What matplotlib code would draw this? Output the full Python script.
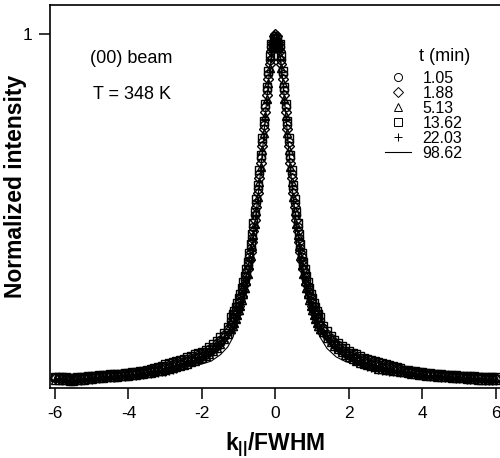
import matplotlib
matplotlib.use("Agg")
import matplotlib.pyplot as plt

plt.rcParams["font.family"] = ["Liberation Sans", "DejaVu Sans"]
plt.rcParams["mathtext.default"] = "regular"
plt.rcParams["axes.unicode_minus"] = False

# k_par / FWHM sampling shared by the five scans:
# coarse in the wings, finer across the peak
k = [-6.0, -5.9, -5.8, -5.7, -5.6, -5.5, -5.4, -5.3, -5.2, -5.1,
     -5.0, -4.9, -4.8, -4.7, -4.6, -4.5, -4.4, -4.3, -4.2, -4.1,
     -4.0, -3.9, -3.8, -3.7, -3.6, -3.5, -3.4, -3.3, -3.2, -3.1,
     -3.0, -2.9, -2.8, -2.7, -2.6, -2.5, -2.4, -2.3, -2.2, -2.1,
     -2.0, -1.9, -1.8, -1.7, -1.6, -1.5, -1.4, -1.3,
     -1.2, -1.16, -1.12, -1.08, -1.04, -1.0, -0.96, -0.92, -0.88, -0.84,
     -0.8, -0.76, -0.72, -0.68, -0.64, -0.6, -0.56, -0.52, -0.48, -0.44,
     -0.4, -0.36, -0.32, -0.28, -0.24, -0.2, -0.16, -0.12, -0.08, -0.04,
     0.0,
     0.04, 0.08, 0.12, 0.16, 0.2, 0.24, 0.28, 0.32, 0.36, 0.4,
     0.44, 0.48, 0.52, 0.56, 0.6, 0.64, 0.68, 0.72, 0.76, 0.8,
     0.84, 0.88, 0.92, 0.96, 1.0, 1.04, 1.08, 1.12, 1.16, 1.2,
     1.3, 1.4, 1.5, 1.6, 1.7, 1.8, 1.9, 2.0,
     2.1, 2.2, 2.3, 2.4, 2.5, 2.6, 2.7, 2.8, 2.9, 3.0,
     3.1, 3.2, 3.3, 3.4, 3.5, 3.6, 3.7, 3.8, 3.9, 4.0,
     4.1, 4.2, 4.3, 4.4, 4.5, 4.6, 4.7, 4.8, 4.9, 5.0,
     5.1, 5.2, 5.3, 5.4, 5.5, 5.6, 5.7, 5.8, 5.9, 6.0]

i_105 = [0.030, 0.030, 0.029, 0.028, 0.027, 0.027, 0.028, 0.029, 0.030, 0.031,
         0.032, 0.033, 0.034, 0.035, 0.036, 0.037, 0.037, 0.038, 0.039, 0.040,
         0.041, 0.042, 0.043, 0.045, 0.046, 0.048, 0.051, 0.054, 0.056, 0.058,
         0.062, 0.065, 0.068, 0.071, 0.074, 0.077, 0.081, 0.085, 0.089, 0.093,
         0.097, 0.102, 0.109, 0.117, 0.126, 0.137, 0.150, 0.166,
         0.190, 0.199, 0.209, 0.220, 0.231, 0.244, 0.257, 0.272, 0.289, 0.306,
         0.326, 0.347, 0.371, 0.396, 0.424, 0.455, 0.488, 0.524, 0.563, 0.605,
         0.649, 0.696, 0.744, 0.793, 0.841, 0.886, 0.928, 0.963, 0.972, 0.989,
         0.995,
         0.989, 0.972, 0.963, 0.928, 0.886, 0.841, 0.793, 0.744, 0.696, 0.649,
         0.605, 0.563, 0.524, 0.488, 0.455, 0.424, 0.396, 0.371, 0.347, 0.326,
         0.306, 0.289, 0.272, 0.257, 0.244, 0.231, 0.220, 0.209, 0.199, 0.190,
         0.170, 0.154, 0.141, 0.130, 0.121, 0.113, 0.106, 0.100,
         0.094, 0.089, 0.084, 0.080, 0.076, 0.073, 0.070, 0.067, 0.065, 0.063,
         0.060, 0.058, 0.056, 0.053, 0.050, 0.048, 0.047, 0.045, 0.044, 0.042,
         0.041, 0.040, 0.039, 0.038, 0.037, 0.036, 0.036, 0.035, 0.034, 0.033,
         0.033, 0.032, 0.032, 0.031, 0.030, 0.030, 0.029, 0.029, 0.028, 0.028]

i_188 = [0.027, 0.027, 0.026, 0.025, 0.024, 0.024, 0.025, 0.026, 0.027, 0.028,
         0.029, 0.030, 0.031, 0.032, 0.033, 0.034, 0.034, 0.035, 0.036, 0.037,
         0.038, 0.039, 0.040, 0.042, 0.043, 0.045, 0.047, 0.049, 0.051, 0.053,
         0.056, 0.059, 0.062, 0.065, 0.068, 0.071, 0.075, 0.079, 0.083, 0.087,
         0.091, 0.096, 0.103, 0.111, 0.120, 0.131, 0.144, 0.160,
         0.178, 0.187, 0.197, 0.208, 0.219, 0.232, 0.245, 0.260, 0.277, 0.294,
         0.314, 0.335, 0.359, 0.384, 0.412, 0.443, 0.476, 0.512, 0.551, 0.593,
         0.637, 0.684, 0.732, 0.781, 0.829, 0.874, 0.916, 0.951, 0.977, 0.994,
         1.000,
         0.994, 0.977, 0.951, 0.916, 0.874, 0.829, 0.781, 0.732, 0.684, 0.637,
         0.593, 0.551, 0.512, 0.476, 0.443, 0.412, 0.384, 0.359, 0.335, 0.314,
         0.294, 0.277, 0.260, 0.245, 0.232, 0.219, 0.208, 0.197, 0.187, 0.178,
         0.164, 0.148, 0.135, 0.124, 0.115, 0.107, 0.100, 0.094,
         0.088, 0.083, 0.078, 0.074, 0.070, 0.067, 0.064, 0.061, 0.059, 0.057,
         0.055, 0.053, 0.051, 0.049, 0.047, 0.045, 0.044, 0.042, 0.041, 0.039,
         0.038, 0.037, 0.036, 0.035, 0.034, 0.033, 0.033, 0.032, 0.031, 0.030,
         0.030, 0.029, 0.029, 0.028, 0.027, 0.027, 0.026, 0.026, 0.025, 0.025]

i_513 = [0.024, 0.024, 0.023, 0.022, 0.021, 0.021, 0.022, 0.023, 0.024, 0.025,
         0.026, 0.027, 0.028, 0.029, 0.030, 0.031, 0.031, 0.032, 0.033, 0.034,
         0.035, 0.036, 0.037, 0.039, 0.040, 0.042, 0.043, 0.045, 0.047, 0.048,
         0.050, 0.053, 0.056, 0.059, 0.062, 0.065, 0.069, 0.073, 0.077, 0.081,
         0.085, 0.090, 0.097, 0.105, 0.114, 0.125, 0.138, 0.154,
         0.166, 0.175, 0.185, 0.196, 0.207, 0.220, 0.233, 0.248, 0.265, 0.282,
         0.302, 0.323, 0.347, 0.372, 0.400, 0.431, 0.464, 0.500, 0.539, 0.581,
         0.625, 0.672, 0.720, 0.769, 0.817, 0.862, 0.904, 0.939, 0.967, 0.984,
         0.990,
         0.984, 0.967, 0.939, 0.904, 0.862, 0.817, 0.769, 0.720, 0.672, 0.625,
         0.581, 0.539, 0.500, 0.464, 0.431, 0.400, 0.372, 0.347, 0.323, 0.302,
         0.282, 0.265, 0.248, 0.233, 0.220, 0.207, 0.196, 0.185, 0.175, 0.166,
         0.158, 0.142, 0.129, 0.118, 0.109, 0.101, 0.094, 0.088,
         0.082, 0.077, 0.072, 0.068, 0.064, 0.061, 0.058, 0.055, 0.053, 0.051,
         0.050, 0.049, 0.047, 0.045, 0.044, 0.042, 0.041, 0.039, 0.038, 0.036,
         0.035, 0.034, 0.033, 0.032, 0.031, 0.030, 0.030, 0.029, 0.028, 0.027,
         0.027, 0.026, 0.026, 0.025, 0.024, 0.024, 0.023, 0.023, 0.022, 0.022]

i_1362 = [0.032, 0.032, 0.031, 0.030, 0.029, 0.029, 0.030, 0.031, 0.032, 0.033,
          0.034, 0.035, 0.036, 0.037, 0.038, 0.039, 0.039, 0.040, 0.041, 0.042,
          0.043, 0.044, 0.045, 0.047, 0.048, 0.050, 0.054, 0.057, 0.060, 0.063,
          0.068, 0.071, 0.074, 0.077, 0.080, 0.083, 0.087, 0.091, 0.095, 0.099,
          0.103, 0.108, 0.115, 0.123, 0.132, 0.143, 0.156, 0.172,
          0.200, 0.209, 0.219, 0.230, 0.241, 0.254, 0.267, 0.282, 0.299, 0.316,
          0.336, 0.357, 0.381, 0.406, 0.434, 0.465, 0.498, 0.534, 0.573, 0.615,
          0.659, 0.706, 0.754, 0.803, 0.851, 0.896, 0.938, 0.973, 0.962, 0.979,
          0.985,
          0.979, 0.962, 0.973, 0.938, 0.896, 0.851, 0.803, 0.754, 0.706, 0.659,
          0.615, 0.573, 0.534, 0.498, 0.465, 0.434, 0.406, 0.381, 0.357, 0.336,
          0.316, 0.299, 0.282, 0.267, 0.254, 0.241, 0.230, 0.219, 0.209, 0.200,
          0.176, 0.160, 0.147, 0.136, 0.127, 0.119, 0.112, 0.106,
          0.100, 0.095, 0.090, 0.086, 0.082, 0.079, 0.076, 0.073, 0.071, 0.069,
          0.065, 0.062, 0.059, 0.056, 0.052, 0.050, 0.049, 0.047, 0.046, 0.044,
          0.043, 0.042, 0.041, 0.040, 0.039, 0.038, 0.038, 0.037, 0.036, 0.035,
          0.035, 0.034, 0.034, 0.033, 0.032, 0.032, 0.031, 0.031, 0.030, 0.030]

i_2203 = [0.022, 0.022, 0.021, 0.020, 0.019, 0.019, 0.020, 0.021, 0.022, 0.023,
          0.024, 0.025, 0.026, 0.027, 0.028, 0.029, 0.029, 0.030, 0.031, 0.032,
          0.033, 0.034, 0.035, 0.037, 0.038, 0.040, 0.041, 0.042, 0.043, 0.044,
          0.046, 0.049, 0.052, 0.055, 0.058, 0.061, 0.065, 0.069, 0.073, 0.077,
          0.081, 0.086, 0.093, 0.101, 0.110, 0.121, 0.134, 0.150,
          0.156, 0.165, 0.175, 0.186, 0.197, 0.210, 0.223, 0.238, 0.255, 0.272,
          0.292, 0.313, 0.337, 0.362, 0.390, 0.421, 0.454, 0.490, 0.529, 0.571,
          0.615, 0.662, 0.710, 0.759, 0.807, 0.852, 0.894, 0.929, 0.957, 0.974,
          0.980,
          0.974, 0.957, 0.929, 0.894, 0.852, 0.807, 0.759, 0.710, 0.662, 0.615,
          0.571, 0.529, 0.490, 0.454, 0.421, 0.390, 0.362, 0.337, 0.313, 0.292,
          0.272, 0.255, 0.238, 0.223, 0.210, 0.197, 0.186, 0.175, 0.165, 0.156,
          0.154, 0.138, 0.125, 0.114, 0.105, 0.097, 0.090, 0.084,
          0.078, 0.073, 0.068, 0.064, 0.060, 0.057, 0.054, 0.051, 0.049, 0.047,
          0.046, 0.045, 0.044, 0.043, 0.042, 0.040, 0.039, 0.037, 0.036, 0.034,
          0.033, 0.032, 0.031, 0.030, 0.029, 0.028, 0.028, 0.027, 0.026, 0.025,
          0.025, 0.024, 0.024, 0.023, 0.022, 0.022, 0.021, 0.021, 0.020, 0.020]

# 98.62 min scan, drawn as a line
k_line = [-6.0, -5.5, -5.0, -4.5, -4.0, -3.5, -3.0, -2.75, -2.5, -2.25,
          -2.0, -1.75, -1.5, -1.3, -1.15, -1.05, -0.95, -0.85, -0.75, -0.65,
          -0.55, -0.45, -0.35, -0.25, -0.15, -0.05, 0.05, 0.15, 0.25, 0.35,
          0.45, 0.55, 0.65, 0.75, 0.85, 0.95, 1.05, 1.2, 1.4, 1.65,
          1.9, 2.2, 2.5, 2.75, 3.0, 3.5, 4.0, 4.5, 5.0, 5.5, 6.0]
i_9862 = [0.026, 0.024, 0.029, 0.033, 0.037, 0.044, 0.051, 0.055, 0.059, 0.062,
          0.068, 0.076, 0.094, 0.116, 0.145, 0.185, 0.230, 0.280, 0.335, 0.400,
          0.475, 0.565, 0.675, 0.800, 0.910, 0.985, 0.990, 0.920, 0.810, 0.685,
          0.570, 0.480, 0.405, 0.340, 0.285, 0.235, 0.190, 0.146, 0.112, 0.088,
          0.075, 0.065, 0.058, 0.054, 0.051, 0.044, 0.037, 0.032, 0.029, 0.026, 0.024]

scans = [
    ("1.05", i_105, "o"),
    ("1.88", i_188, "D"),
    ("5.13", i_513, "^"),
    ("13.62", i_1362, "s"),
    ("22.03", i_2203, "+"),
]

fig = plt.figure(figsize=(5, 4.58), dpi=100)
ax = fig.add_axes([0.1, 0.1528, 0.9, 0.836])

for label, y, m in scans:
    ms = 4.8 if m == "D" else 5.8
    ax.plot(k, y, ls="none", marker=m, ms=ms, mfc="none", mec="black",
            mew=1.0, label=label)
ax.plot(k_line, i_9862, color="black", lw=0.8, label="98.62")

ax.set_xlim(-6.136, 6.109)
ax.set_ylim(0, 1.082)
ax.set_xticks([-6, -4, -2, 0, 2, 4, 6])
ax.set_yticks([1])
ax.tick_params(direction="out", length=8, width=1.1, labelsize=12.5, pad=5)

for side in ("left", "bottom", "top"):
    ax.spines[side].set_linewidth(1.2)
ax.spines["right"].set_visible(False)

ax.set_xlabel(r"k$_{||}$/FWHM", fontsize=16.5, fontweight="bold")
ax.set_ylabel("Normalized intensity", fontsize=16.5, fontweight="bold")
ax.xaxis.set_label_coords(0.501, -0.11)
ax.yaxis.set_label_coords(-0.05, 0.527)

ax.text(0.089, 0.849, "(00) beam", transform=ax.transAxes, fontsize=13,
        va="baseline")
ax.text(0.096, 0.755, "T = 348 K", transform=ax.transAxes, fontsize=13,
        va="baseline")
ax.text(0.933, 0.854, "t (min)", transform=ax.transAxes, fontsize=13,
        va="baseline", ha="right")

leg = ax.legend(loc="upper left", bbox_to_anchor=(0.744, 0.829),
                frameon=False, fontsize=11.5, handlelength=1.65,
                handletextpad=0.7, labelspacing=0.0, borderpad=0,
                borderaxespad=0)
for h in leg.legend_handles:
    h.set_markeredgewidth(0.7)

fig.savefig("out.png", dpi=100)
